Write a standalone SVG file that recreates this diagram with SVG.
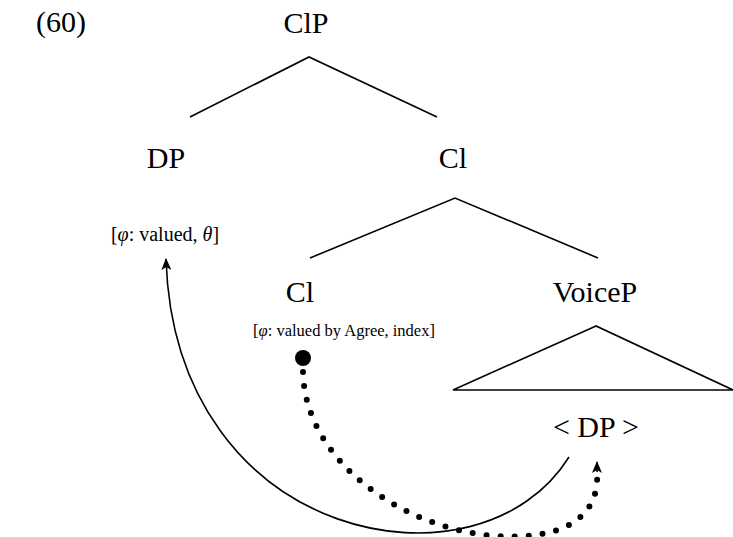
<svg xmlns="http://www.w3.org/2000/svg" width="733" height="537" viewBox="0 0 733 537">
  <style>
    .lbl { font-family: "Liberation Serif", "Times New Roman", serif; font-size: 30px; fill: #000; text-anchor: middle; }
    .feat { font-family: "Liberation Serif", "Times New Roman", serif; font-size: 16.5px; fill: #000; text-anchor: middle; }
    .feat-lg { font-size: 20px; }
    .branch { stroke: #000; stroke-width: 1.6; fill: none; }
    .move { stroke: #000; stroke-width: 1.6; fill: none; }
    .agree { stroke: #000; stroke-width: 6; fill: none; stroke-linecap: round; stroke-dasharray: 0 14; }
  </style>
  <defs>
    <marker id="stealth" viewBox="0 0 12 10" refX="11" refY="5" markerWidth="12" markerHeight="10" markerUnits="userSpaceOnUse" orient="auto">
      <path d="M0,0 L12,5 L0,10 L3,5 Z" fill="#000"/>
    </marker>
  </defs>

  <text class="lbl" x="61" y="32">(60)</text>

  <g id="clp">
    <text class="lbl" x="306" y="33">ClP</text>
  </g>
  <g id="dp">
    <text class="lbl" x="166" y="168">DP</text>
    <text class="feat feat-lg" x="165" y="241">[<tspan font-style="italic">φ</tspan>: valued, <tspan font-style="italic">θ</tspan>]</text>
  </g>
  <g id="clbar">
    <text class="lbl" x="453" y="168">Cl</text>
  </g>
  <g id="cl">
    <text class="lbl" x="300" y="302">Cl</text>
    <text class="feat" x="344" y="336">[<tspan font-style="italic">φ</tspan>: valued by Agree, index]</text>
    <circle cx="303" cy="358" r="8" fill="#000"/>
  </g>
  <g id="voicep">
    <text class="lbl" x="595" y="302">VoiceP</text>
    <path class="branch" d="M596,326 L453,390 L733,390 Z"/>
    <text class="lbl" x="596" y="437">&lt; DP &gt;</text>
  </g>

  <g id="connectors">
    <path class="branch" d="M190,117 L309,57 L437,117"/>
    <path class="branch" d="M310,258 L455,198 L598,258"/>
    <path class="move" d="M569,457 C480,600 175,545 166,259" marker-end="url(#stealth)"/>
    <path class="agree" d="M303,372 C305,460 400,528 495,536 C560,540 600,520 597,472"/>
    <path d="M597,472 L597,462" stroke="#000" stroke-width="1.6" marker-end="url(#stealth)"/>
  </g>
</svg>
